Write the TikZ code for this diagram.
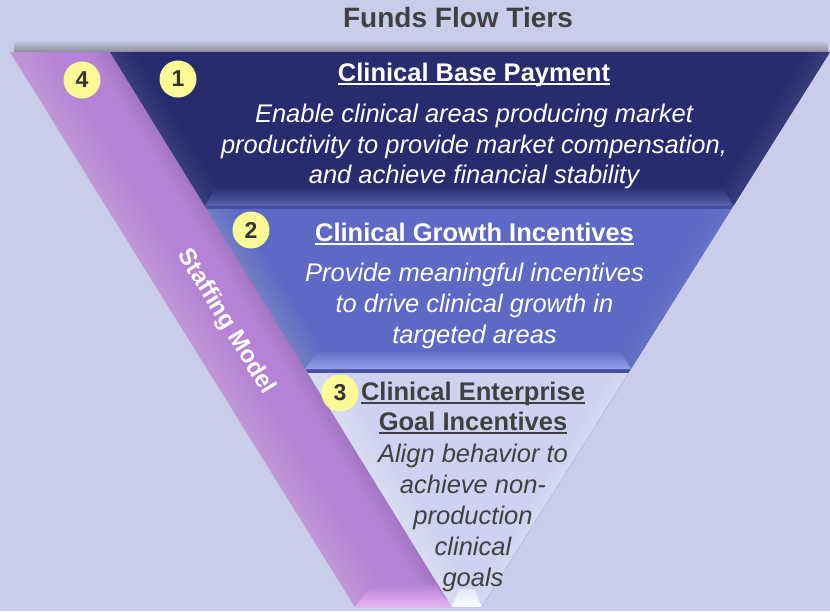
\documentclass[tikz,border=0pt]{standalone}
\usepackage{fontspec}
\setmainfont{Liberation Sans}

% underline drawn as a rule under the boxed text
\newsavebox\ulnbox
\newcommand\uln[1]{\leavevmode\sbox\ulnbox{#1}\rlap{\rule[-4pt]{\wd\ulnbox}{1.6pt}}\usebox\ulnbox}

\definecolor{bg}{RGB}{201,205,234}
\definecolor{navy}{RGB}{38,44,110}
\definecolor{navylight}{RGB}{88,98,170}
\definecolor{blue}{RGB}{93,105,196}
\definecolor{bluelight}{RGB}{150,162,236}
\definecolor{pale}{RGB}{206,210,240}
\definecolor{palelight}{RGB}{226,229,248}
\definecolor{lilac}{RGB}{181,130,213}
\definecolor{lilaclight}{RGB}{236,178,244}
\definecolor{seam}{RGB}{70,80,160}
\definecolor{bubble}{RGB}{252,250,150}
\definecolor{ink}{RGB}{64,64,64}

\tikzset{
  titletext/.style={anchor=base, text=ink, font=\fontsize{28}{32}\selectfont\bfseries, inner sep=0pt},
  headlight/.style={anchor=base, text=white, font=\fontsize{25.5}{30}\selectfont\bfseries, inner sep=0pt},
  bodylight/.style={anchor=base, text=white, font=\fontsize{25.5}{30}\selectfont\itshape, inner sep=0pt},
  headdark/.style={anchor=base, text=ink, font=\fontsize{25.5}{30}\selectfont\bfseries, inner sep=0pt},
  bodydark/.style={anchor=base, text=ink, font=\fontsize{25.5}{30}\selectfont\itshape, inner sep=0pt},
  numbadge/.style={circle, fill=bubble, minimum size=37pt, inner sep=0pt, text=ink!80!black,
    font=\fontsize{23}{23}\selectfont\bfseries},
  bandtext/.style={text=white, font=\fontsize{24}{26}\selectfont\bfseries, inner sep=0pt},
  glow/.style={fill=white, fill opacity=#1},
}

\begin{document}
\begin{tikzpicture}[x=1pt,y=-1pt]
  % canvas
  \fill[bg] (0,0) rectangle (830,611);
  \useasboundingbox (0,0) rectangle (830,611);

  % soft shadow above the funnel rim
  \shade[top color=bg, bottom color=bg!50!black!75] (14,40) rectangle (828,52);

  % tier column base (shows through as seams between the tiers)
  \fill[seam] (110,52) -- (830,52) -- (481.5,607) -- (452,607) -- cycle;

  % ---- staffing band ----
  \fill[lilac] (10,52) -- (110,52) -- (452,607) -- (355,607) -- cycle;
  \foreach \w in {4,8,...,40}
    \fill[glow=0.022] (10,52) -- (10+\w,52) -- (355+\w,607) -- (355,607) -- cycle;
  \foreach \w in {3,6,...,18}
    \fill[black, fill opacity=0.012] (110,52) -- (110-\w,52) -- (452-\w,607) -- (452,607) -- cycle;
  \shade[top color=lilac, bottom color=lilaclight] (372,585) -- (436,585) -- (452,607) -- (355,607) -- cycle;

  % ---- tier 1 ----
  \fill[navy] (110,52) -- (830,52) -- (733.3,206) -- (204.9,206) -- cycle;
  \foreach \w in {3,6,...,24}
    \fill[glow=0.012] (110,52) -- (110+\w,52) -- (204.9+\w,206) -- (204.9,206) -- cycle;
  \foreach \w in {3,6,...,24}
    \fill[glow=0.012] (830,52) -- (830-\w,52) -- (733.3-\w,206) -- (733.3,206) -- cycle;
  \shade[top color=navy, bottom color=navylight] (216,186) -- (722,186) -- (733.3,206) -- (204.9,206) -- cycle;

  % ---- tier 2 ----
  \fill[blue] (206.7,209) -- (731.4,209) -- (630.9,369) -- (305.3,369) -- cycle;
  \foreach \w in {3,6,...,30}
    \fill[glow=0.014] (206.7,209) -- (206.7+\w,209) -- (305.3+\w,369) -- (305.3,369) -- cycle;
  \foreach \w in {3,6,...,24}
    \fill[glow=0.010] (731.4,209) -- (731.4-\w,209) -- (630.9-\w,369) -- (630.9,369) -- cycle;
  \shade[top color=blue, bottom color=bluelight] (318,350) -- (620,350) -- (630.9,369) -- (305.3,369) -- cycle;

  % ---- tier 3 ----
  \fill[pale] (307.7,373) -- (628.4,373) -- (481.5,607) -- (451.9,607) -- cycle;
  \foreach \w in {3,6,...,30}
    \fill[glow=0.03] (307.7,373) -- (307.7+\w,373) -- (451.9+\w,607) -- (451.9,607) -- cycle;
  \foreach \w in {3,6,...,18}
    \fill[glow=0.03] (628.4,373) -- (628.4-\w,373) -- (481.5-\w,607) -- (481.5,607) -- cycle;
  \fill[pale] (452,607) -- (481.5,607) -- (481.5,606) -- (452,606);
  \shade[top color=palelight, bottom color=white] (459,589) -- (475,589) -- (481.5,607) -- (451.9,607) -- cycle;

  % ---- title ----
  \node[titletext] (title) at (458,27) {Funds Flow Tiers};

  % ---- badges ----
  \node[numbadge] (b4) at (82,80) {4};
  \node[numbadge] (b1) at (178,79) {1};
  \node[numbadge] (b2) at (251,230) {2};
  \node[numbadge] (b3) at (340,393) {3};

  % ---- tier 1 text ----
  \node[headlight] (h1)  at (474,81)  {\uln{Clinical Base Payment}};
  \node[bodylight] (t1a) at (474,122) {Enable clinical areas producing market};
  \node[bodylight] (t1b) at (474,153) {productivity to provide market compensation,};
  \node[bodylight] (t1c) at (474,183) {and achieve financial stability};

  % ---- tier 2 text ----
  \node[headlight] (h2)  at (474.5,241) {\uln{Clinical Growth Incentives}};
  \node[bodylight] (t2a) at (474.5,281) {Provide meaningful incentives};
  \node[bodylight] (t2b) at (474.5,312) {to drive clinical growth in};
  \node[bodylight] (t2c) at (474.5,343) {targeted areas};

  % ---- tier 3 text ----
  \node[headdark] (h3a) at (473,400) {\uln{Clinical Enterprise}};
  \node[headdark] (h3b) at (473,430) {\uln{Goal Incentives}};
  \node[bodydark] (t3a) at (473,462) {Align behavior to};
  \node[bodydark] (t3b) at (473,493) {achieve non-};
  \node[bodydark] (t3c) at (473,524) {production};
  \node[bodydark] (t3d) at (473,555) {clinical};
  \node[bodydark] (t3e) at (473,586) {goals};

  % ---- band label ----
  \node[bandtext, rotate=-58.4] (staff) at (226,322) {Staffing Model};
\end{tikzpicture}
\end{document}
